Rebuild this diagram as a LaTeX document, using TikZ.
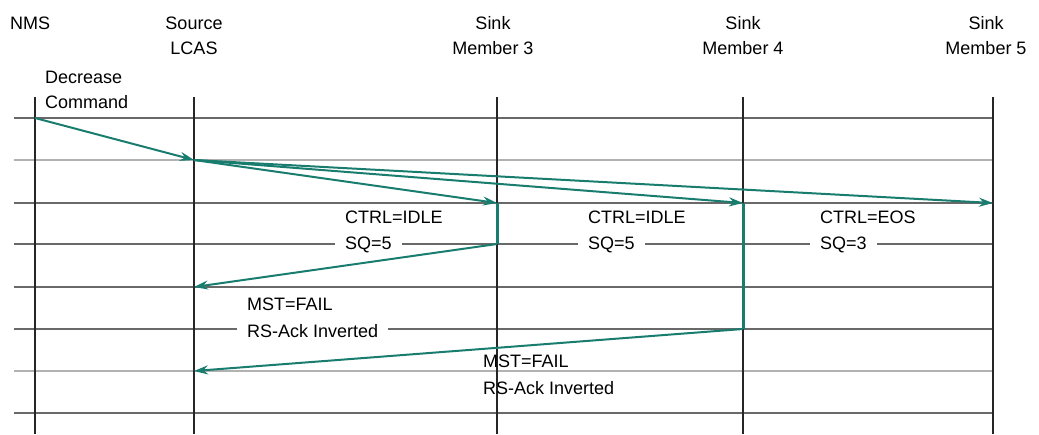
\documentclass[tikz,border=0pt]{standalone}
\usepackage{fontspec}
\setmainfont{Liberation Sans}
\usetikzlibrary{calc, positioning, arrows.meta}
\definecolor{msgteal}{RGB}{24,124,110}
\definecolor{gridgray}{RGB}{105,105,105}
\definecolor{gridlight}{RGB}{178,178,178}

\begin{document}
\begin{tikzpicture}[x=1pt, y=-1pt, font=\fontsize{18}{25}\selectfont,
	head/.style={align=center, inner sep=0pt},
	lbl/.style={anchor=base west, inner sep=0pt},
	gap/.style={anchor=base west, fill=white, inner ysep=0pt, inner xsep=10pt},
	grid/.style={draw=gridgray, line width=1.4},
	gridlt/.style={draw=gridlight, line width=2},
	life/.style={draw=black!85, line width=2},
	msg/.style={-{Stealth[length=14pt, width=9pt]}, draw=msgteal, fill=msgteal, line width=2},
	hold/.style={draw=msgteal, line width=3}]
	\useasboundingbox (0,0) rectangle (1039,434);
	% lineas %
	\foreach \y/\s in {118/grid, 160/gridlt, 203/grid, 244/grid, 287/grid, 329/grid, 371/gridlt, 413/grid}
		\draw[\s] (14,\y) -- (993,\y);
	\foreach \n/\x in {nms/35, src/194, mtres/497, mcuatro/743, mcinco/993} {
		\coordinate (\n top) at (\x,97);
		\coordinate (\n bot) at (\x,434);
		\draw[life] (\n top) -- (\n bot);
	}
	% nodos %
	\node[lbl] (nmshead) at (10,29) {NMS};
	\node[head] (srchead) at (194,36) {Source\\LCAS};
	\node[head] (mtreshead) at (493,36) {Sink\\Member 3};
	\node[head] (mcuatrohead) at (743,36) {Sink\\Member 4};
	\node[head] (mcincohead) at (986,36) {Sink\\Member 5};
	\node[anchor=west, inner sep=0pt, align=left] (cmd) at (45,90) {Decrease\\Command};
	\node[lbl] (ctrltres) at (345,223) {CTRL=IDLE};
	\node[gap] (sqtres) at (335,249) {SQ=5};
	\node[lbl] (ctrlcuatro) at (588,223) {CTRL=IDLE};
	\node[gap] (sqcuatro) at (578,249) {SQ=5};
	\node[lbl] (ctrlcinco) at (820,223) {CTRL=EOS};
	\node[gap] (sqcinco) at (810,249) {SQ=3};
	\node[lbl] (msttres) at (247,310) {MST=FAIL};
	\node[gap] (acktres) at (237,337) {RS-Ack Inverted};
	\node[lbl] (mstcuatro) at (483,367) {MST=FAIL};
	\node[lbl] (ackcuatro) at (483,394) {RS-Ack Inverted};
	% eventos %
	\coordinate (nmsa) at (35,118);
	\coordinate (srca) at (194,160);
	\coordinate (mtresa) at (497,203);
	\coordinate (mtresb) at (497,244);
	\coordinate (srcb) at (194,287);
	\coordinate (mcuatroa) at (743,203);
	\coordinate (mcuatrob) at (743,329);
	\coordinate (srcc) at (194,371);
	\coordinate (mcincoa) at (993,203);
	% conexiones %
	\draw[msg] (nmsa) -- (srca);
	\draw[msg] (srca) -- (mtresa);
	\draw[msg] (srca) -- (mcuatroa);
	\draw[msg] (srca) -- (mcincoa);
	\draw[hold] (mtresa) -- (mtresb);
	\draw[hold] (mcuatroa) -- (mcuatrob);
	\draw[msg] (mtresb) -- (srcb);
	\draw[msg] (mcuatrob) -- (srcc);
\end{tikzpicture}
\end{document}
